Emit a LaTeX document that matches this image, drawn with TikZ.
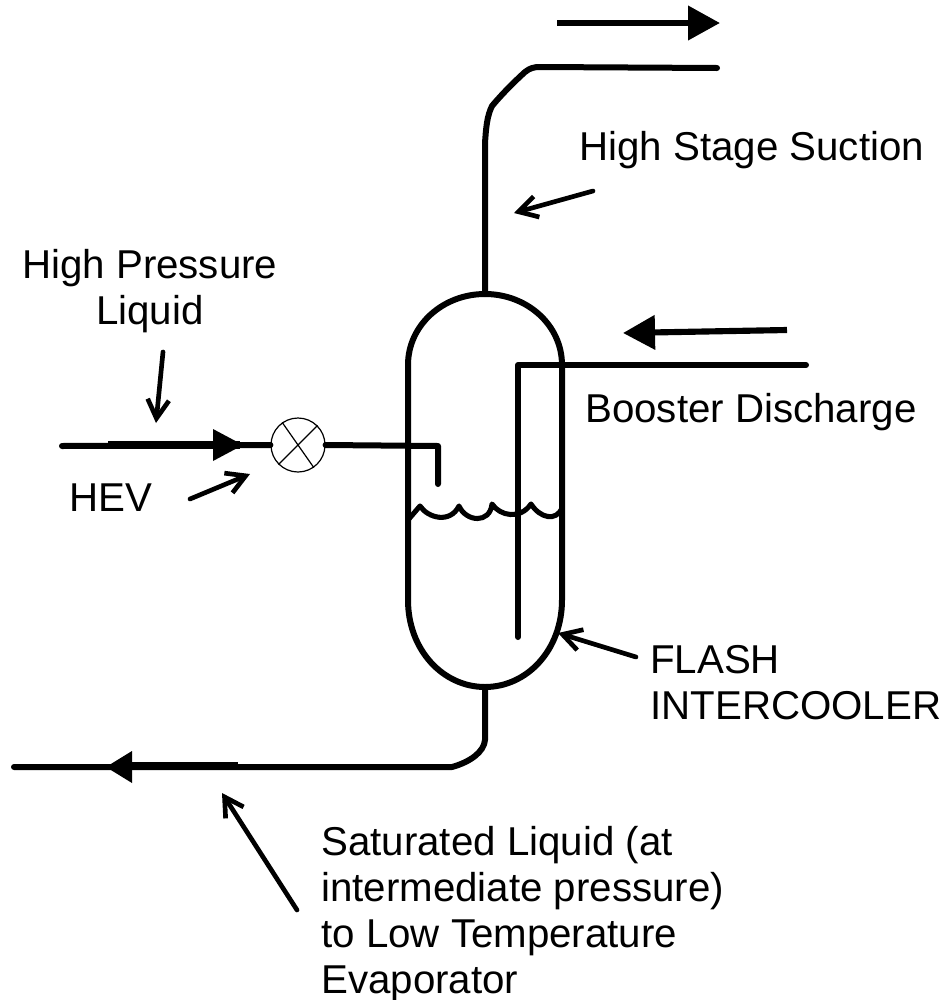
\documentclass[tikz,border=0pt]{standalone}
\usepackage{fontspec}
\usepackage{tikz}
\usetikzlibrary{arrows.meta}
\setmainfont{Liberation Sans}

\begin{document}
\begin{tikzpicture}[x=0.75pt,y=-0.75pt,line join=round,
  pipe/.style={line width=4.5pt,line cap=round},
  thick pipe/.style={line width=5.8pt},
  vessel line/.style={line width=4.5pt},
  flow/.style={line width=4.6pt,-{Triangle[length=24pt,width=25pt]}},
  leader/.style={line width=3.5pt,line cap=round,-{Straight Barb[length=14pt,width=16pt,line width=3.5pt]}},
  label text/.style={font=\fontsize{30.2}{34.5}\selectfont,inner sep=0pt,align=left,anchor=base west},
  valve node/.style={circle,draw,line width=0.9pt,minimum size=40.5pt,inner sep=0pt}]
  \useasboundingbox (0,0) rectangle (945,1000);

  % vessel end points
  \coordinate (vt) at (485,294);
  \coordinate (vb) at (485,687);
  \coordinate (liquid l) at (408,520);
  \coordinate (liquid r) at (562,508);

  % pipe ends
  \coordinate (in) at (62,446);
  \coordinate (in a) at (108,445);
  \coordinate (in b) at (240,445);
  \coordinate (drop) at (438,484);
  \coordinate (top) at (717,68);
  \coordinate (boost) at (806,365);
  \coordinate (dip) at (518,637);
  \coordinate (out) at (14,767);
  \coordinate (out a) at (132,766);
  \coordinate (out b) at (238,766);

  \node[valve node] (valve) at (298,445) {};
  \draw[line width=0.9pt] (valve.125) -- (valve.305);
  \draw[line width=0.9pt] (valve.45) -- (valve.225);

  \draw[vessel line] (408,365) .. controls (408,325) and (443,294) .. (vt)
    .. controls (527,294) and (562,325) .. (562,365) -- (562,600)
    .. controls (562,650) and (527,687) .. (vb)
    .. controls (443,687) and (408,650) .. (408,600) -- cycle;

  \draw[line width=3.8pt] (liquid l) -- (420,506) .. controls (428,518) and (450,524) .. (459,506)
    .. controls (466,522) and (490,524) .. (492,504)
    .. controls (500,516) and (520,520) .. (531,504)
    .. controls (540,518) and (556,522) .. (liquid r);

  \draw[pipe] (in) -- (valve.west);
  \draw[thick pipe] (in a) -- (in b);
  \draw[pipe] (valve.east) -- (438,446) -- (drop);
  \draw[pipe] (vt) -- (485,143) .. controls (486,128) and (487,116) .. (492,106)
    .. controls (502,94) and (514,82) .. (525,72) .. controls (530,68) and (534,67) .. (540,67) -- (top);
  \draw[pipe] (dip) -- (518,365) -- (boost);
  \draw[pipe] (vb) -- (485,740) .. controls (484,752) and (470,762) .. (452,767) -- (out);
  \draw[thick pipe] (out a) -- (out b);

  % flow direction
  \coordinate (f1) at (557,23);
  \coordinate (f2) at (720,23);
  \coordinate (f3) at (787,330);
  \coordinate (f4) at (623,333);
  \draw[flow] (f1) -- (f2);
  \draw[flow] (f3) -- (f4);
  \fill (213,429) -- (243,445) -- (213,461) -- cycle;
  \fill (132,751) -- (106,767) -- (132,783) -- cycle;

  \node[label text] (suction) at (579,160) {High Stage Suction};
  \node[label text,align=center] (hpl) at (22,324) {High Pressure\\Liquid};
  \node[label text] (discharge) at (585,422) {Booster Discharge};
  \node[label text] (hev) at (69,511) {HEV};
  \node[label text] (flash) at (650,719) {FLASH\\INTERCOOLER};
  \node[label text] (sat) at (321,993) {Saturated Liquid (at\\intermediate pressure)\\to Low Temperature\\Evaporator};

  \coordinate (l1) at (593,191);
  \coordinate (l2) at (514,213);
  \coordinate (l3) at (163,352);
  \coordinate (l4) at (156,423);
  \coordinate (l5) at (190,499);
  \coordinate (l6) at (250,474);
  \coordinate (l7) at (636,657);
  \coordinate (l8) at (558,633);
  \coordinate (l9) at (297,910);
  \coordinate (l10) at (222,793);
  \draw[leader] (l1) -- (l2);
  \draw[leader] (l3) -- (l4);
  \draw[leader] (l5) -- (l6);
  \draw[leader] (l7) -- (l8);
  \draw[leader] (l9) -- (l10);
\end{tikzpicture}
\end{document}
